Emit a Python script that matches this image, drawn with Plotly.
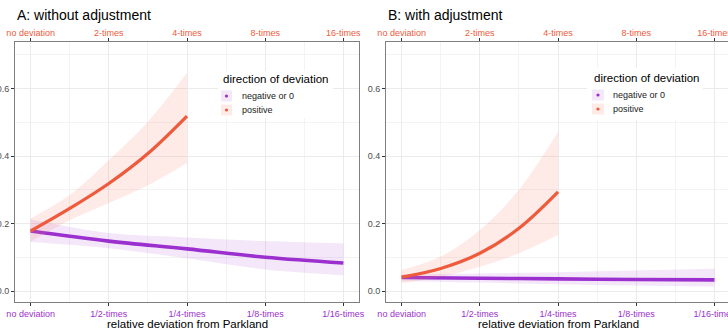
import plotly.graph_objects as go

# ---------------- data ----------------
tick_pos = [0, 1, 2, 3, 4]
top_labels = ["no deviation", "2-times", "4-times", "8-times", "16-times"]
bottom_labels = ["no deviation", "1/2-times", "1/4-times", "1/8-times", "1/16-times"]

x_pos = [0, 0.5, 1, 1.5, 2]
x_neg = [0, 1, 2, 3, 4]

A_pos = [0.178, 0.245, 0.319, 0.408, 0.519]
A_pos_lo = [0.146, 0.210, 0.261, 0.314, 0.380]
A_pos_hi = [0.216, 0.285, 0.388, 0.502, 0.647]
A_neg = [0.178, 0.148, 0.125, 0.100, 0.083]
A_neg_lo = [0.145, 0.127, 0.097, 0.064, 0.047]
A_neg_hi = [0.213, 0.172, 0.159, 0.148, 0.141]

B_pos = [0.041, 0.067, 0.112, 0.186, 0.294]
B_pos_lo = [0.023, 0.042, 0.072, 0.112, 0.166]
B_pos_hi = [0.062, 0.102, 0.181, 0.300, 0.472]
B_neg = [0.040, 0.038, 0.036, 0.034, 0.033]
B_neg_lo = [0.030, 0.025, 0.020, 0.016, 0.013]
B_neg_hi = [0.050, 0.052, 0.056, 0.061, 0.066]

panel_titles = ["A: without adjustment", "B: with adjustment"]
x_title = "relative deviation from Parkland"
legend_title = "direction of deviation"
legend_labels = ["negative or 0", "positive"]

# ---------------- style ----------------
RED = "#EE5A3C"
PURPLE = "#9B30CF"
RED_FILL = "rgba(250,128,110,0.17)"
PURPLE_FILL = "rgba(160,70,210,0.13)"
FONT = "Liberation Sans, Arial, sans-serif"
W, H = 728, 331
ML, MR, MT, MB = 15, 0, 42, 29
PW, PH = W - ML - MR, H - MT - MB


def px(x):
    return (x - ML) / PW


def py(y):
    return (H - MB - y) / PH


fig = go.Figure()

panels = [
    dict(xb="x", xt="x3", y="y", pos=A_pos, plo=A_pos_lo, phi=A_pos_hi,
         neg=A_neg, nlo=A_neg_lo, nhi=A_neg_hi),
    dict(xb="x2", xt="x4", y="y2", pos=B_pos, plo=B_pos_lo, phi=B_pos_hi,
         neg=B_neg, nlo=B_neg_lo, nhi=B_neg_hi),
]


def band(xs, lo, hi, fill, xa, ya):
    fig.add_trace(go.Scatter(x=xs, y=lo, mode="lines", line=dict(width=0, shape="spline"),
                             hoverinfo="skip", showlegend=False, xaxis=xa, yaxis=ya))
    fig.add_trace(go.Scatter(x=xs, y=hi, mode="lines", line=dict(width=0, shape="spline"),
                             fill="tonexty", fillcolor=fill, hoverinfo="skip",
                             showlegend=False, xaxis=xa, yaxis=ya))


for p in panels:
    band(x_neg, p["nlo"], p["nhi"], PURPLE_FILL, p["xb"], p["y"])
    band(x_pos, p["plo"], p["phi"], RED_FILL, p["xt"], p["y"])
    fig.add_trace(go.Scatter(x=x_neg, y=p["neg"], mode="lines",
                             line=dict(color=PURPLE, width=3.6, shape="spline"),
                             showlegend=False, xaxis=p["xb"], yaxis=p["y"]))
    fig.add_trace(go.Scatter(x=x_pos, y=p["pos"], mode="lines",
                             line=dict(color=RED, width=3.2, shape="spline"),
                             showlegend=False, xaxis=p["xt"], yaxis=p["y"]))

yrange = [-0.0326, 0.7385]
domA = [0, px(359)]
domB = [px(386), 1.0]
rangeA = [-0.2, 4.2]
rangeB = [-0.2, -0.2 + (728 - 386) / 78.2]

common_x = dict(showgrid=True, gridcolor="#EBEBEB", gridwidth=1, zeroline=False,
                automargin=False, ticklabeloverflow="allow",
                tickmode="array", tickvals=tick_pos, ticks="outside", ticklen=3,
                tickcolor="#333333", tickwidth=1,
                minor=dict(tickmode="array", tickvals=[0.5, 1.5, 2.5, 3.5],
                           showgrid=True, gridcolor="#F3F3F3", gridwidth=0.6, ticks=""))

bottom = dict(common_x, ticktext=bottom_labels, side="bottom",
              tickfont=dict(family=FONT, size=9, color=PURPLE),
              showline=True, mirror=True, linecolor="#7F7F7F", linewidth=1)
top = dict(common_x, ticktext=top_labels, side="top", showgrid=False,
           tickfont=dict(family=FONT, size=9, color=RED), showline=False,
           ticklabelstandoff=-2)
top["minor"] = dict(showgrid=False)

yax = dict(range=yrange, tickmode="array", tickvals=[0, 0.2, 0.4, 0.6],
           ticktext=["0.0", "0.2", "0.4", "0.6"], ticks="outside", ticklen=3,
           automargin=False, ticklabeloverflow="allow",
           tickcolor="#333333", showgrid=True, gridcolor="#EBEBEB", gridwidth=1,
           zeroline=False, showline=True, mirror=True, linecolor="#7F7F7F", linewidth=1,
           tickfont=dict(family=FONT, size=9, color="#4D4D4D"),
           minor=dict(tickmode="array", tickvals=[0.1, 0.3, 0.5, 0.7], showgrid=True,
                      gridcolor="#F3F3F3", gridwidth=0.6, ticks=""))

fig.update_layout(
    template="none",
    width=W, height=H,
    margin=dict(l=ML, r=MR, t=MT, b=MB, autoexpand=False),
    paper_bgcolor="white", plot_bgcolor="white",
    showlegend=False,
    font=dict(family=FONT),
    xaxis=dict(bottom, domain=domA, range=rangeA, anchor="y"),
    xaxis2=dict(bottom, domain=domB, range=rangeB, anchor="y2"),
    xaxis3=dict(top, domain=domA, range=rangeA, anchor="y", overlaying="x"),
    xaxis4=dict(top, domain=domB, range=rangeB, anchor="y2", overlaying="x2"),
    yaxis=dict(yax, domain=[0, 1], anchor="x"),
    yaxis2=dict(yax, domain=[0, 1], anchor="x2"),
)

annotations = []
shapes = []

# panel titles and x titles
for title, left, center in [(panel_titles[0], 15, 187), (panel_titles[1], 386, 558)]:
    annotations.append(dict(text=title, x=px(left), y=py(15), xref="paper", yref="paper",
                            xanchor="left", yanchor="middle", showarrow=False,
                            font=dict(family=FONT, size=14, color="#000000")))
    annotations.append(dict(text=x_title, x=px(center), y=py(323.5), xref="paper", yref="paper",
                            xanchor="center", yanchor="middle", showarrow=False,
                            font=dict(family=FONT, size=11.5, color="#000000")))

# manual legends
legends = [
    dict(box=(218, 71, 333, 118), title=(220.5, 79), keyx=(221, 232), keys_y=(96, 110), textx=240),
    dict(box=(587, 68, 703, 120), title=(591.5, 78), keyx=(592, 604), keys_y=(95, 109), textx=610.5),
]
for lg in legends:
    x0, y0, x1, y1 = lg["box"]
    shapes.append(dict(type="rect", xref="paper", yref="paper", layer="above",
                       x0=px(x0), x1=px(x1), y0=py(y1), y1=py(y0),
                       fillcolor="white", line=dict(width=0)))
    annotations.append(dict(text=legend_title, x=px(lg["title"][0]), y=py(lg["title"][1]),
                            xref="paper", yref="paper", xanchor="left", yanchor="middle",
                            showarrow=False, font=dict(family=FONT, size=11.5, color="#000000")))
    for label, cy, fill, col in zip(legend_labels, lg["keys_y"],
                                    [PURPLE_FILL, RED_FILL], [PURPLE, RED]):
        kx0, kx1 = lg["keyx"]
        shapes.append(dict(type="rect", xref="paper", yref="paper", layer="above",
                           x0=px(kx0), x1=px(kx1), y0=py(cy + 5.5), y1=py(cy - 5.5),
                           fillcolor=fill, line=dict(width=0)))
        cx = (kx0 + kx1) / 2
        shapes.append(dict(type="circle", xref="paper", yref="paper", layer="above",
                           x0=px(cx - 1.6), x1=px(cx + 1.6), y0=py(cy + 1.6), y1=py(cy - 1.6),
                           fillcolor=col, line=dict(width=0)))
        annotations.append(dict(text=label, x=px(lg["textx"]), y=py(cy), xref="paper",
                                yref="paper", xanchor="left", yanchor="middle", showarrow=False,
                                font=dict(family=FONT, size=9, color="#1A1A1A")))

fig.update_layout(annotations=annotations, shapes=shapes)
fig.write_html("out.html", config={"displayModeBar": False},
               post_script="document.body.style.margin='0';document.body.style.padding='0';")
